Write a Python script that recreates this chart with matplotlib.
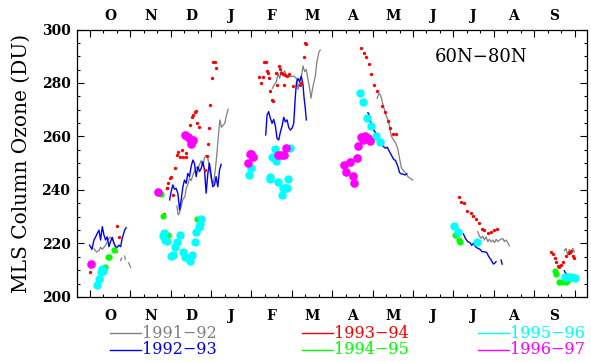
import numpy as np
import matplotlib.pyplot as plt
from matplotlib.lines import Line2D

nan = np.nan

# x = days since 1 Oct (each month drawn with equal width, 365/12 days)
months = ['O', 'N', 'D', 'J', 'F', 'M', 'A', 'M', 'J', 'J', 'A', 'S']

# 1991-92 (grey line)
gray_days = [3.2, 5.0, 6.8, 8.0, 9.3, 10.5, 11.8, 13.0, 14.3, 15.5, 16.8, 18.1, 19.3, 20.6, nan,
             23.1, 23.8, nan, 26.1, 26.6, nan, 29.1, 30.6, nan,
             65.5, 66.4, 67.5, 69.0, 70.0, 71.5, 72.5, 74.0, 75.0, 76.2, 77.5, 78.7, 80.0, 81.3,
             82.5, 83.8, 85.0, 86.3, 87.5, 88.8, 90.0, 91.3, 92.5, 93.8, 95.3, 97.8, 99.1, 100.3,
             101.6, 102.8, 104.1, nan,
             137.4, 139.2, 140.4, 141.7, 142.9, 144.2, 145.4, 146.7, 147.9, 149.9, 151.7, 153.5,
             155.5, 156.7, 158.0, 159.2, 160.5, 161.7, 163.0, 164.2, 165.5, 166.5, 167.5, 168.5,
             169.7, 171.0, 172.5, 173.5, nan,
             216.4, 217.7, 218.9, 220.2, 221.2, 222.7, 224.5, 225.7, 227.0, 228.7, 230.2, 232.0,
             233.2, 234.5, 235.7, 237.7, 239.5, 241.2, 243.2, nan,
             292.1, 293.4, 294.7, 295.9, 297.2, 298.4, 299.7, 300.9, 302.2, 303.5, 304.7, 306.0,
             307.2, 308.5, 309.7, 311.0, 312.2, 313.5, 314.7, 316.0, nan,
             357.3, 358.6, 359.9, 361.1, 362.4, 363.6, 364.9]
gray_du = [218.0, 216.8, 217.3, 218.6, 217.8, 218.6, 219.4, 220.7, 221.9, 222.3, 221.6, 220.1, 218.6, 216.6, nan,
           213.6, 214.6, nan, 215.3, 214.1, nan, 212.8, 211.1, nan,
           234.0, 230.7, 231.5, 234.4, 236.5, 237.5, 240.5, 242.5, 244.5, 243.5, 245.5, 247.0, 248.5, 247.8,
           249.5, 251.0, 249.0, 252.0, 253.0, 252.0, 248.0, 244.0, 242.0, 245.0, 251.8, 266.2, 263.4, 264.3,
           264.9, 268.0, 270.2, nan,
           278.0, 279.6, 280.5, 283.6, 281.7, 284.6, 283.4, 284.6, 282.4, 282.6, 282.4, 282.6,
           281.7, 277.6, 280.9, 282.4, 286.4, 284.2, 285.1, 281.4, 278.0, 274.3, 277.4, 279.9,
           282.4, 288.0, 291.7, 292.3, nan,
           274.3, 276.1, 275.5, 273.0, 271.1, 268.4, 266.2, 263.7, 260.2, 258.7, 257.7, 255.2,
           251.8, 248.5, 247.5, 246.5, 245.0, 244.4, 243.7, nan,
           224.4, 222.8, 221.9, 222.8, 221.3, 222.5, 220.7, 221.6, 220.6, 221.3, 220.3, 221.6,
           220.7, 221.3, 221.6, 221.9, 220.7, 221.3, 220.3, 219.1, nan,
           217.3, 218.2, 215.7, 217.8, 216.1, 218.2, 216.9]

# 1992-93 (blue line)
blue_days = [-0.3, 1.5, 3.0, 4.3, 5.5, 6.8, 8.0, 9.3, 10.5, 11.8, 13.0, 14.3, 15.5, 16.8, 18.1,
             19.3, 20.6, 21.8, 23.1, 24.3, 26.1, 27.3, nan,
             60.0, 61.2, 62.4, 63.7, 64.9, 66.2, 67.5, 68.7, 70.0, 71.2, 72.5, 73.7, 75.0, 76.2,
             77.5, 78.7, 80.0, 81.3, 82.5, 83.8, 85.0, 86.3, 87.5, 88.8, 90.0, 91.3, 92.5, 93.8,
             95.0, 96.3, 97.6, 98.8, nan,
             132.4, 133.4, 134.6, 135.9, 137.2, 138.4, 139.7, 140.9, 142.2, 143.5, 144.7, 146.0,
             147.2, 148.5, 149.7, 151.0, 152.2, 153.5, 154.7, 155.5, 156.7, 158.0, 159.2, 160.5,
             161.2, 162.2, 163.0, nan,
             209.4, 210.7, 211.9, 213.7, 215.2, 216.2, 217.7, 219.5, 221.2, 222.7, 224.0, 225.2,
             227.0, 228.7, 230.2, 232.0, 233.2, 234.5, 235.7, 237.2, 238.7, nan,
             281.3, 282.8, 284.6, 286.3, 287.6, 288.9, 290.4, 292.1, 293.9, 295.4, 297.2, 298.9,
             300.4, 302.2, 303.9, 305.2, 305.9, nan, 309.7, 310.5, nan,
             357.3, 358.6, 360.6, 362.4, 364.9]
blue_du = [219.4, 217.8, 221.3, 222.5, 223.8, 225.0, 221.3, 226.3, 223.2, 221.3, 222.5, 218.8, 220.7, 222.3, 220.1,
           218.8, 218.6, 219.4, 218.8, 221.9, 225.0, 225.9, nan,
           236.3, 239.4, 241.9, 240.3, 240.6, 238.8, 232.5, 236.3, 241.2, 243.7, 242.5, 246.2, 245.0, 248.7,
           251.2, 250.0, 245.0, 248.7, 246.9, 248.1, 250.6, 247.5, 238.8, 246.2, 250.0, 245.6, 241.2, 241.9,
           245.0, 241.2, 247.5, 249.6, nan,
           260.6, 268.0, 269.3, 266.8, 264.9, 266.4, 263.9, 259.3, 258.7, 261.8, 263.9, 267.2,
           265.5, 266.2, 263.4, 262.4, 263.1, 264.9, 274.9, 279.9, 281.7, 280.5, 282.6, 279.3,
           274.9, 270.5, 266.2, nan,
           268.9, 267.7, 263.9, 262.4, 261.4, 259.7, 258.4, 257.2, 256.2, 255.6, 256.0, 254.7,
           253.1, 251.5, 251.0, 248.7, 246.5, 246.0, 246.0, 245.6, 246.0, nan,
           223.6, 221.9, 220.7, 220.3, 219.3, 220.1, 218.8, 218.2, 217.8, 216.9, 216.9, 216.6,
           215.1, 213.8, 212.3, 212.8, 213.2, nan, 213.8, 212.3, nan,
           209.8, 208.6, 208.2, 207.6, 207.4]

# 1993-94 (red dots)
red_days = [-0.3, 20.6, 21.8,
            55.9, 57.7, 58.2, 58.9, 60.2, 61.4, 62.7, 63.9, 65.2, 66.4, 67.7, 69.4, 70.2, 72.2, 72.7,
            75.2, 77.0, 77.7, 79.0, 80.2, 81.0, 82.2, 87.0, 87.8, 89.0, 89.8, 90.8, 92.0, 92.8,
            94.0, 95.3,
            127.1, 129.2, 130.4, 131.2, 132.4, 133.4, 134.1, 134.9, 135.9, 137.2, 138.2, 140.0,
            141.2, 142.2, 142.9, 143.7, 145.4, 146.0, 146.7, 148.5, 149.9, 152.9, 157.9, 159.2,
            161.0, 161.7, 163.0,
            204.4, 206.4, 208.2, 210.2, 211.9, 213.9, 216.2, 220.2, 221.9, 224.2, 226.2, 228.2, 230.2,
            277.8, 279.6, 282.1, 284.1, 287.1, 288.9, 290.9, 292.9, 295.2, 297.2, 299.7, 302.2,
            304.7, 306.5,
            347.3, 349.0, 350.3, 351.1, 352.3, 353.6, 354.8, 356.6, 358.6, 360.6, 361.9, 362.4,
            363.6, 364.9]
red_du = [209.5, 226.5, 222.5,
          230.9, 240.6, 240.9, 242.5, 244.4, 245.0, 238.1, 248.3, 253.1, 254.3, 252.5, 255.0, 252.2, 253.7, 252.2,
          264.3, 267.4, 268.0, 269.3, 269.5, 264.9, 263.4, 247.5, 252.8, 257.1, 263.1, 271.8, 281.7, 288.0,
          288.0, 285.5,
          282.4, 280.1, 282.4, 287.7, 288.0, 284.6, 283.6, 281.7, 277.1, 273.6, 273.3, 283.6,
          279.3, 286.4, 285.1, 283.6, 283.3, 279.3, 283.0, 282.6, 283.3, 278.9, 279.3, 279.9,
          289.8, 294.8, 294.6,
          293.0, 291.1, 289.8, 287.0, 283.4, 279.3, 277.1, 271.4, 269.3, 265.9, 263.1, 260.8, 260.9,
          237.5, 235.6, 235.0, 232.3, 231.3, 230.3, 229.0, 227.5, 225.3, 225.0, 224.0, 224.4,
          225.0, 225.4,
          216.9, 216.1, 214.5, 213.2, 211.6, 211.1, 212.0, 213.2, 215.3, 216.3, 217.0, 217.3,
          215.3, 214.7]

# 1994-95 (green dots)
green_days = [11.3, 13.8, 14.5, 18.3,
              53.2, 55.2, 58.9, 80.6,
              275.1, 278.3, 279.1,
              350.4, 351.1, 353.6, 355.6, 358.6, 359.9]
green_du = [211.1, 214.8, 215.1, 217.6,
            238.5, 230.4, 223.2, 229.0,
            223.2, 221.3, 220.4,
            209.7, 208.5, 205.7, 205.7, 205.7, 206.4]

# 1995-96 (cyan dots)
cyan_days = [5.0, 6.8, 8.0, 8.8, 9.5,
             55.2, 56.1, 56.9, 57.7, 61.4, 62.4, 64.0, 65.2, 68.0, 70.2, 71.5, 74.0, 75.7, 76.7,
             79.0, 80.2, 81.8, 82.8, 84.0,
             119.9, 121.6, 135.4, 135.9, 137.4, 139.2, 140.0, 141.7, 145.0, 145.4, 146.7, 147.5,
             148.4, 149.3, 151.0,
             203.1, 205.6, 208.9, 211.9, 215.2, 218.2,
             274.1, 277.1, 291.4,
             358.1, 361.1, 363.0, 365.0]
cyan_du = [204.4, 206.6, 209.5, 210.6, 209.8,
           222.8, 223.8, 221.3, 220.9, 215.5, 215.7, 218.8, 220.7, 223.2, 216.9, 215.1, 214.5, 213.6, 215.7,
           220.4, 224.2, 226.1, 227.3, 229.0,
           245.6, 248.3, 245.0, 244.0, 252.5, 255.2, 251.0, 243.1, 238.1, 240.9, 240.6, 240.9,
           240.6, 244.0, 255.6,
           276.1, 272.8, 266.8, 263.9, 260.2, 258.1,
           226.7, 224.2, 220.7,
           207.6, 207.6, 207.3, 207.0]

# 1996-97 (magenta dots)
mag_days = [1.0, 51.4,
            71.5, 73.5, 75.2, 76.0, 77.0, 77.7,
            119.1, 120.4, 121.6, 122.6,
            141.7, 144.2, 146.2, 147.9,
            191.4, 193.1, 195.6, 198.1, 198.9, 201.2, 201.9, 204.4, 205.7, 206.9, 209.4, 210.7]
mag_du = [212.3, 239.4,
          260.6, 259.9, 258.9, 257.2, 258.4, 258.7,
          250.0, 253.5, 253.6, 252.3,
          253.1, 253.1, 253.1, 255.8,
          249.3, 246.8, 250.6, 245.2, 242.7, 251.8, 256.4, 259.9, 258.7, 260.2, 259.3, 258.4]

seasons = ['1991\u221292', '1992\u221293', '1993\u221294', '1994\u221295', '1995\u221296', '1996\u221297']
colors = ['#808080', '#0000ff', '#ff0000', '#00ff00', '#00ffff', '#ff00ff']

serif = 'DejaVu Serif'
fig = plt.figure(figsize=(5.91, 3.62), dpi=100)
ax = fig.add_axes([0.1311, 0.1796, 0.8621, 0.7389])

ax.plot(gray_days, gray_du, color=colors[0], lw=0.9)
ax.plot(blue_days, blue_du, color=colors[1], lw=1.0)
ax.plot(red_days, red_du, 'o', color=colors[2], ms=2.4, mew=0)
ax.plot(green_days, green_du, 'o', color=colors[3], ms=4.5, mew=0)
ax.plot(cyan_days, cyan_du, 'o', color=colors[4], ms=6.0, mew=0)
ax.plot(mag_days, mag_du, 'o', color=colors[5], ms=6.2, mew=0)

mlen = 365 / 12
ax.set_xlim(-9.4, 374.4)
ax.set_ylim(200, 300)
ax.set_xticks([k * mlen for k in range(13)])
ax.set_xticks([k * mlen / 3 for k in range(37) if k % 3], minor=True)
ax.set_xticklabels([])
ax.set_yticks(range(200, 301, 20))
ax.set_yticks(range(200, 301, 5), minor=True)
ax.tick_params(which='both', direction='in', top=True, right=True, width=0.8, colors='black')
ax.tick_params(which='major', length=5)
ax.tick_params(which='minor', length=2.5)
ax.tick_params(axis='y', labelsize=10, pad=5)
for lab in ax.get_yticklabels():
    lab.set_family(serif)
    lab.set_fontweight('bold')
for s in ax.spines.values():
    s.set_linewidth(0.9)

for k, m in enumerate(months):
    xc = (k + 0.5) * mlen
    ax.text(xc, -0.045, m, transform=ax.get_xaxis_transform(), ha='center', va='top',
            family=serif, fontweight='bold', fontsize=10)
    ax.text(xc, 1.025, m, transform=ax.get_xaxis_transform(), ha='center', va='bottom',
            family=serif, fontweight='bold', fontsize=10)

ax.set_ylabel('MLS Column Ozone (DU)', family=serif, fontsize=14.5, labelpad=8)
ax.text(435 / 591, 1 - 57 / 362, '60N\u221280N', transform=fig.transFigure, family=serif,
        fontsize=13, va='center', ha='left')

# legend drawn by hand below the axes
cols_x = [110, 302, 478]
rows_y = [333, 350]
for i, (name, c) in enumerate(zip(seasons, colors)):
    x0 = cols_x[i // 2]
    y0 = rows_y[i % 2]
    fig.add_artist(Line2D([x0 / 591, (x0 + 31) / 591], [1 - y0 / 362, 1 - y0 / 362],
                          color=c, lw=1.0, transform=fig.transFigure))
    fig.text((x0 + 32) / 591, 1 - y0 / 362, name, color=c, family=serif, fontsize=11.5,
             va='center', ha='left')

fig.savefig('out.png', dpi=100)
